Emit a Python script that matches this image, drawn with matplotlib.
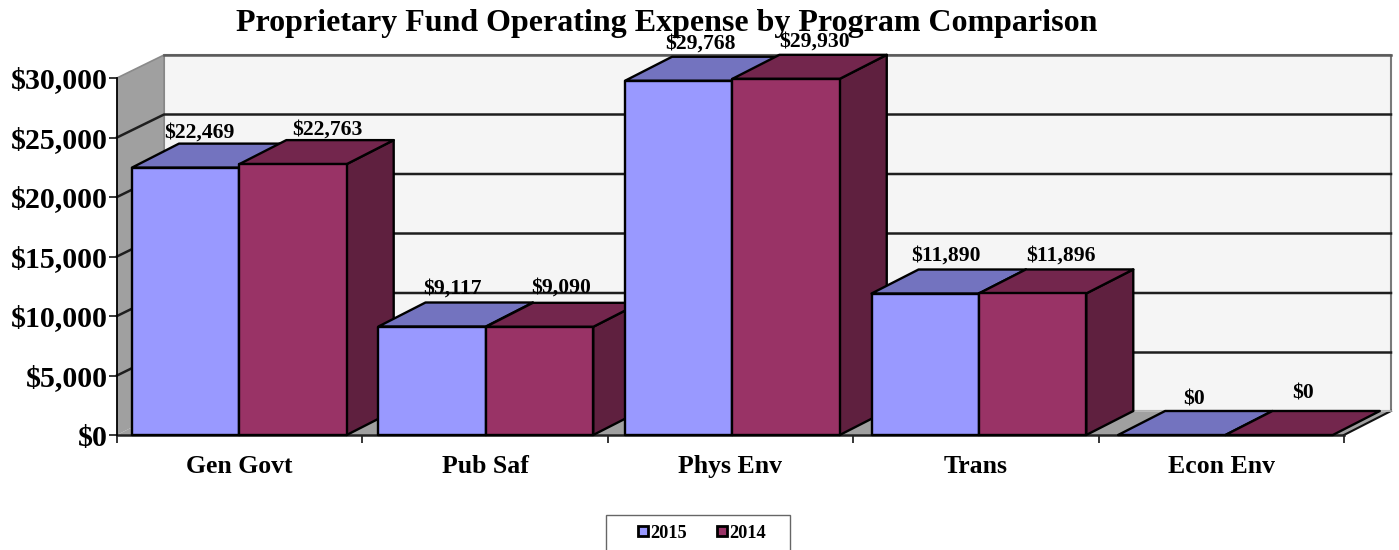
import matplotlib
matplotlib.use("Agg")
import matplotlib.pyplot as plt
from matplotlib.patches import Polygon, Rectangle
from matplotlib.lines import Line2D

plt.rcParams['font.family'] = ['Liberation Serif', 'DejaVu Serif']
plt.rcParams['font.weight'] = 'bold'

categories = ["Gen Govt", "Pub Saf", "Phys Env", "Trans", "Econ Env"]
values_2015 = [22469, 9117, 29768, 11890, 0]
values_2014 = [22763, 9090, 29930, 11896, 0]
y_ticks = [0, 5000, 10000, 15000, 20000, 25000, 30000]

# label nudges in pixels (dx, dy) relative to the bar front-top centre
nudge_2015 = [(14, 35), (20, 38), (22, 37), (21, 38), (22, 36)]
nudge_2014 = [(34, 35), (22, 39), (28, 37), (28, 38), (24, 42)]

W, H = 1399, 550
fig = plt.figure(figsize=(W / 100, H / 100), dpi=100, facecolor='white')
L, R, B, T = 117, 1344, 435, 78
ax = fig.add_axes([L / W, 1 - B / H, (R - L) / W, (B - T) / H])
ax.set_xlim(0, 5)
ax.set_ylim(0, 30000)
ax.patch.set_visible(False)
for s in ax.spines.values():
    s.set_visible(False)

px_x = 5 / (R - L)
px_y = 30000 / (B - T)
DX = 47 * px_x
DY = 24 * px_y
DYW = 23 * px_y
top = 30000

WALL = '#F5F5F5'
GRAY = '#A0A0A0'
EDGE = '#7A7A7A'


def poly(pts, fc, ec='none', lw=0.0, z=1):
    ax.add_patch(Polygon(pts, closed=True, facecolor=fc, edgecolor=ec, linewidth=lw,
                         zorder=z, clip_on=False, joinstyle='round'))


# walls and floor
poly([(DX, DY), (5 + DX, DY), (5 + DX, top + DYW), (DX, top + DYW)], WALL, EDGE, 1.5, 1)
poly([(0, 0), (DX, DY), (DX, top + DYW), (0, top)], GRAY, 'none', 0, 1)
poly([(0, 0), (DX, DY), (5 + DX, DY), (5, 0)], GRAY, 'none', 0, 1)
ax.plot([DX, DX], [DY, top + DYW], color='#8A8A8A', lw=1.2, zorder=1.5, clip_on=False)
ax.plot([5, 5 + DX], [0, DY], color='#111111', lw=1.5, zorder=1.6, clip_on=False)

# gridlines on back wall and side wall
for v in y_ticks[1:-1]:
    ax.plot([0, DX, 5 + DX], [v, v + DYW, v + DYW], color='#1E1E1E', lw=1.8, zorder=2,
            clip_on=False)
ax.plot([0, DX], [top, top + DYW], color='#8A8A8A', lw=1.2, zorder=2, clip_on=False)
ax.plot([DX, 5 + DX], [top + DYW, top + DYW], color='#5A5A5A', lw=1.8, zorder=2, clip_on=False)
ax.plot([DX, 5 + DX], [DY, DY], color='#BDBDBD', lw=1.2, zorder=2, clip_on=False)

# axes lines and ticks
ax.plot([0, 0], [0, top], color='black', lw=1.3, zorder=3, clip_on=False)
ax.plot([0, 5], [0, 0], color='#222222', lw=1.8, zorder=2.5, clip_on=False)
ax.set_xticks(range(6))
ax.set_xticklabels([])
ax.set_yticks(y_ticks)
ax.set_yticklabels([f"${v:,}" for v in y_ticks], fontsize=21.5, fontweight='bold', y=0.003)
ax.tick_params(axis='y', length=6, width=1.1, pad=0.5, color='black')
ax.tick_params(axis='x', length=6, width=1.1, pad=3, color='black', direction='out')
ax.set_axisbelow(True)

for i, c in enumerate(categories):
    ax.annotate(c, xy=(i + 0.5, 0), xycoords='data', xytext=(0, -20 * 0.72),
                textcoords='offset points', ha='center', va='top', fontsize=18.5,
                fontweight='bold', annotation_clip=False)

# bars
STEP = 1.0046
OFF = 0.061
BW = 0.4375
series = [(values_2015, '#9999FF', '#7373BF', '#5C5C99', nudge_2015, 0),
          (values_2014, '#993366', '#73264D', '#5F203F', nudge_2014, 1)]
z = 4.0
for i in range(len(categories)):
    for vals, front, topc, side, nudge, k in series:
        x0 = i * STEP + OFF + k * BW
        x1 = x0 + BW
        v = vals[i]
        if v > 0:
            poly([(x1, 0), (x1 + DX, DY), (x1 + DX, v + DY), (x1, v)], side, 'black', 1.7, z)
        poly([(x0, v), (x1, v), (x1 + DX, v + DY), (x0 + DX, v + DY)], topc, 'black', 1.7, z + 0.01)
        if v > 0:
            poly([(x0, 0), (x1, 0), (x1, v), (x0, v)], front, 'black', 1.7, z + 0.02)
        z += 0.1
        ax.annotate(f"${v:,}", xy=((x0 + x1) / 2, v), xycoords='data',
                    xytext=(nudge[i][0] * 0.72, nudge[i][1] * 0.72), textcoords='offset points',
                    ha='center', va='center', fontsize=15.6, fontweight='bold', zorder=20,
                    annotation_clip=False)

# title
fig.text(667 / W, 1 - 23 / H, "Proprietary Fund Operating Expense by Program Comparison",
         ha='center', va='center', fontsize=23, fontweight='bold', zorder=30)

# legend frame runs off the bottom of the picture
fig.add_artist(Rectangle((606 / W, -0.02), 184 / W, (550 - 515) / H + 0.02, transform=fig.transFigure,
                         facecolor='white', edgecolor='#666666', linewidth=1.0))
handles = [Line2D([], [], linestyle='none', marker='s', markersize=7.5, markerfacecolor=c,
                  markeredgecolor='black', markeredgewidth=2.0) for c in ('#9999FF', '#993366')]
leg = fig.legend(handles, ['2015', '2014'], ncol=2, frameon=False, loc='center',
                 bbox_to_anchor=(700 / W, 1 - 533 / H), handletextpad=-0.1,
                 columnspacing=1.45, borderpad=0, borderaxespad=0, handlelength=1.0,
                 prop={'size': 13.2, 'weight': 'bold'})

fig.savefig('out.png', dpi=100, facecolor='white')
